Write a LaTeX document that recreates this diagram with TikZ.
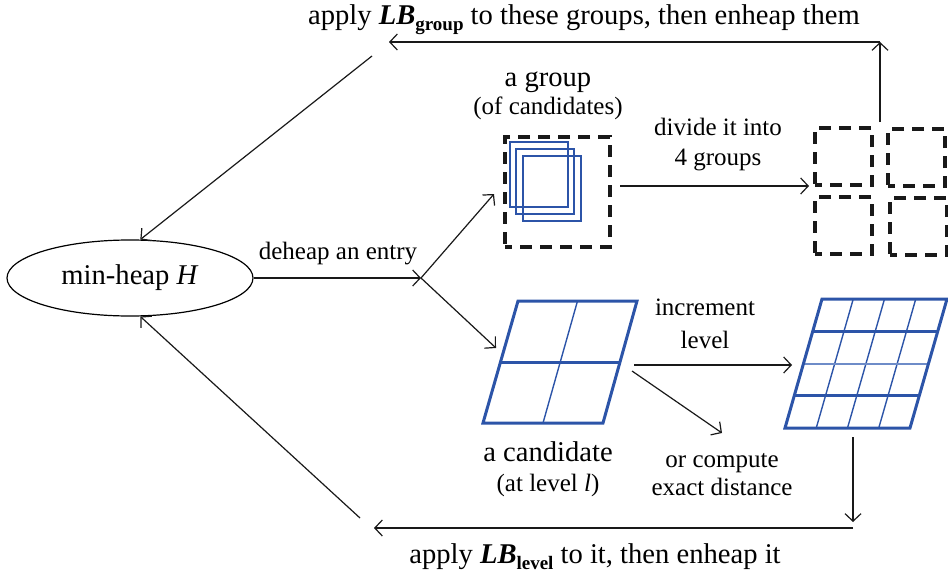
\documentclass[tikz,border=0pt]{standalone}
\usepackage{fontspec}
\setmainfont{Liberation Serif}
\usetikzlibrary{arrows.meta,shapes.geometric,calc}
\definecolor{gridblue}{RGB}{44,84,168}
\definecolor{gridlight}{RGB}{110,140,200}
\newcommand\fsbig{\fontsize{28.6}{33}\selectfont}
\newcommand\fssmall{\fontsize{25}{30}\selectfont}
\newcommand\lbsub[1]{{\bfseries\itshape LB}\raisebox{-6pt}{\fontsize{19}{19}\selectfont\bfseries #1}}
\begin{document}
\begin{tikzpicture}[x=1pt,y=-1pt,
  conn/.style={line width=1.2pt, draw=black!90},
  arr/.style={conn, -{Straight Barb[length=7.5pt,width=16pt,line width=1.2pt]}},
  groupbox/.style={draw=black!90, line width=3.2pt, dash pattern=on 12pt off 8pt, dash phase=5pt, inner sep=0pt},
  cand/.style={draw=gridblue, line width=1.5pt},
  outline/.style={draw=gridblue, line width=3pt, line join=miter},
  gridline/.style={draw=gridblue, line width=1.4pt},
  bigtext/.style={font=\fsbig, inner sep=0pt, align=center},
  smalltext/.style={font=\fssmall, inner sep=0pt, align=center}]
\useasboundingbox (0,0) rectangle (948,578);

% the heap
\node[ellipse, draw, line width=1.2pt, minimum width=246pt, minimum height=76pt, inner sep=0pt, font=\fsbig] (heap) at (130,278) {min-heap \textit{H}};
\coordinate (fork) at (421,278);
\draw[arr] (heap.east) -- (fork);
\node[smalltext] (deheap) at (338,254) {deheap an entry};

% a group of candidates
\node[bigtext] (grouplbl) at (548,82) {a group};
\node[smalltext] (grouplbl2) at (548,108) {(of candidates)};
\node[groupbox, minimum width=105pt, minimum height=110pt] (grp) at (557.5,192) {};
\draw[cand] (510,142) rectangle (568,207);
\draw[cand] (516,149) rectangle (574,214);
\draw[cand] (523,156) rectangle (581,221);

% four sub-groups
\node[groupbox, minimum width=57pt, minimum height=57pt] (q1) at (843.5,156.5) {};
\node[groupbox, minimum width=57pt, minimum height=57pt] (q2) at (916.5,157.5) {};
\node[groupbox, minimum width=57pt, minimum height=57pt] (q3) at (843.5,225.5) {};
\node[groupbox, minimum width=57pt, minimum height=57pt] (q4) at (918.5,226.5) {};

% a candidate at level l
\coordinate (a1) at (518,301);
\coordinate (a2) at (637,301);
\coordinate (a3) at (603,423);
\coordinate (a4) at (483,423);
\draw[gridline] ($(a1)!0.5!(a2)$) -- ($(a4)!0.5!(a3)$);
\draw[outline] ($(a1)!0.5!(a4)$) -- ($(a2)!0.5!(a3)$);
\draw[outline] (a1) -- (a2) -- (a3) -- (a4) -- cycle;
\node[bigtext] (candlbl) at (548,452) {a candidate};
\node[smalltext] (candlbl2) at (548,485) {(at level \textit{l})};

% the candidate at the next level
\coordinate (b1) at (822,299);
\coordinate (b2) at (947,299);
\coordinate (b3) at (910,428);
\coordinate (b4) at (785,428);
\foreach \t in {0.25,0.5,0.75}{
  \draw[gridline] ($(b1)!\t!(b2)$) -- ($(b4)!\t!(b3)$);
}
\draw[outline] ($(b1)!0.25!(b4)$) -- ($(b2)!0.25!(b3)$);
\draw[draw=gridlight, line width=2pt] ($(b1)!0.5!(b4)$) -- ($(b2)!0.5!(b3)$);
\draw[outline] ($(b1)!0.75!(b4)$) -- ($(b2)!0.75!(b3)$);
\draw[outline] (b1) -- (b2) -- (b3) -- (b4) -- cycle;

% branching from the deheaped entry
\coordinate (gin) at (494,194);
\coordinate (cin) at (496,348);
\draw[arr] (fork) -- (gin);
\draw[arr] (fork) -- (cin);

% divide the group
\coordinate (dstart) at (620,186);
\coordinate (dend) at (809,186);
\draw[arr] (dstart) -- (dend);
\node[smalltext] (dividelbl) at (718,145) {divide it into\\4 groups};

% increment the level or finish
\coordinate (istart) at (634,365);
\coordinate (iend) at (792,365);
\draw[arr] (istart) -- (iend);
\node[smalltext, font=\fontsize{25}{33}\selectfont] (inclbl) at (705,324) {increment\\level};
\coordinate (estart) at (632,371);
\coordinate (eend) at (722,433);
\draw[arr] (estart) -- (eend);
\node[smalltext, font=\fontsize{25}{28}\selectfont] (exactlbl) at (722,475) {or compute\\exact distance};

% back to the heap: groups
\coordinate (up0) at (880,122);
\coordinate (up1) at (880,42);
\coordinate (top1) at (389,42);
\coordinate (diag1) at (372,56);
\draw[arr] (up0) -- (up1);
\draw[arr] (up1) -- (top1);
\draw[arr] (diag1) -- (heap.75);
\node[bigtext] (toplbl) at (584,20) {apply \lbsub{group} to these groups, then enheap them};

% back to the heap: candidates
\coordinate (dn0) at (853,437);
\coordinate (dn1) at (853,522);
\coordinate (bot0) at (853,528);
\coordinate (bot1) at (374,528);
\coordinate (diag2) at (360,518);
\draw[arr] (dn0) -- (dn1);
\draw[arr] (bot0) -- (bot1);
\draw[arr] (diag2) -- (heap.-75);
\node[bigtext] (botlbl) at (595,557) {apply \lbsub{level} to it, then enheap it};
\end{tikzpicture}
\end{document}
